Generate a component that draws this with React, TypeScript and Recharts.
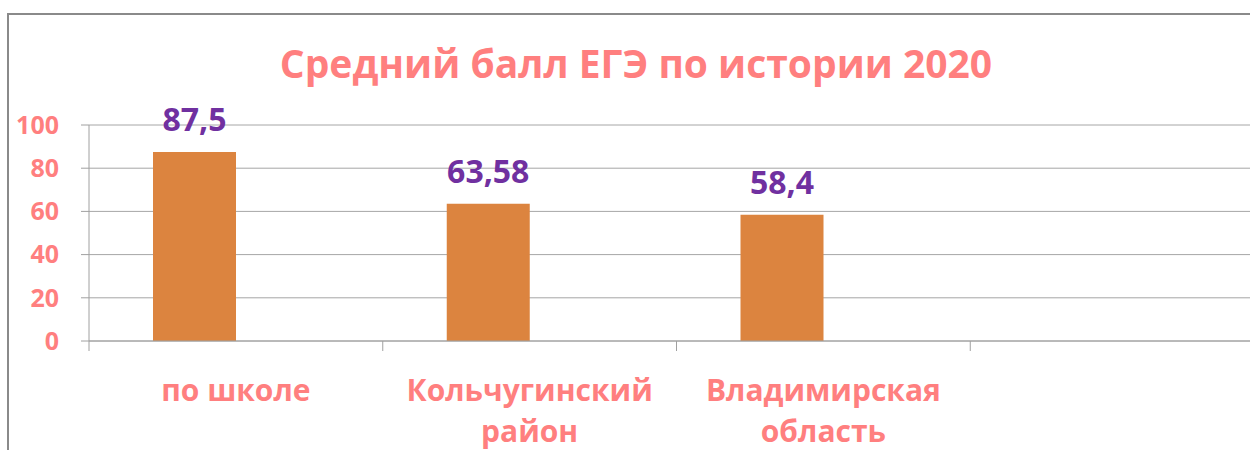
import { BarChart, Bar, XAxis, YAxis, CartesianGrid, LabelList } from 'recharts';

const categories = ['по школе', 'Кольчугинский\nрайон', 'Владимирская\nобласть', ''];
const scores = [87.5, 63.58, 58.4, null];
const emptySeries = [null, null, null, null];
const yTicks = [0, 20, 40, 60, 80, 100];

const data = categories.map((name, i) => ({ name, score: scores[i], other: emptySeries[i] }));

const CHART_W = 1275;
const CHART_H = 435;
const MARGIN = { top: 110, right: 20, bottom: 9, left: 0 };
const Y_W = 80;
const BAND = (CHART_W - MARGIN.left - MARGIN.right - Y_W) / categories.length;

const PINK = '#ff7f7f';
const FONT = '"Open Sans", sans-serif';

function CategoryTick(props: any) {
  const { x, y, payload } = props;
  const lines = String(payload.value).split('\n');
  const edge = x - BAND / 2;
  return (
    <g>
      <line x1={edge} y1={y} x2={edge} y2={y + 10} stroke="#a0a0a0" />
      {lines.map((l, i) => (
        <text
          key={i}
          x={x}
          y={y + 60 + i * 41}
          textAnchor="middle"
          fill={PINK}
          fontSize={30}
          fontWeight="bold"
          fontFamily={FONT}
        >
          {l}
        </text>
      ))}
    </g>
  );
}

export default function App() {
  return (
    <div
      style={{
        position: 'fixed',
        left: 7,
        top: 13,
        width: 1243,
        height: 437,
        overflow: 'hidden',
        borderLeft: '2px solid #8a8a8a',
        borderTop: '2px solid #8a8a8a',
        boxSizing: 'border-box',
        background: '#fff',
      }}
    >
      <div
        style={{
          position: 'absolute',
          left: 0,
          width: 1254,
          top: 25,
          textAlign: 'center',
          fontFamily: FONT,
          fontWeight: 'bold',
          fontSize: 39,
          lineHeight: '46px',
          color: PINK,
          whiteSpace: 'nowrap',
        }}
      >
        Средний балл ЕГЭ по истории 2020
      </div>
      <BarChart
        width={CHART_W}
        height={CHART_H}
        data={data}
        margin={MARGIN}
        barCategoryGap={64}
        barGap={0}
      >
        <CartesianGrid vertical={false} stroke="#a6a6a6" />
        <XAxis
          dataKey="name"
          height={100}
          axisLine={{ stroke: '#a0a0a0' }}
          tickLine={false}
          tickSize={0}
          tickMargin={0}
          interval={0}
          tick={<CategoryTick />}
        />
        <YAxis
          width={Y_W}
          domain={[0, 100]}
          ticks={yTicks}
          interval={0}
          axisLine={{ stroke: '#a0a0a0' }}
          tickLine={{ stroke: '#a0a0a0' }}
          tickSize={8}
          tickMargin={22}
          tick={{ fill: PINK, fontSize: 25, fontWeight: 'bold', fontFamily: FONT }}
        />
        <Bar dataKey="score" fill="#dc843f" isAnimationActive={false}>
          <LabelList
            dataKey="score"
            position="top"
            offset={21}
            formatter={(v: any) => (v == null ? '' : String(v).replace('.', ','))}
            fill="#7030a0"
            fontSize={32}
            fontWeight="bold"
            fontFamily={FONT}
          />
        </Bar>
        <Bar dataKey="other" fill="#a5a5a5" isAnimationActive={false} />
      </BarChart>
    </div>
  );
}
